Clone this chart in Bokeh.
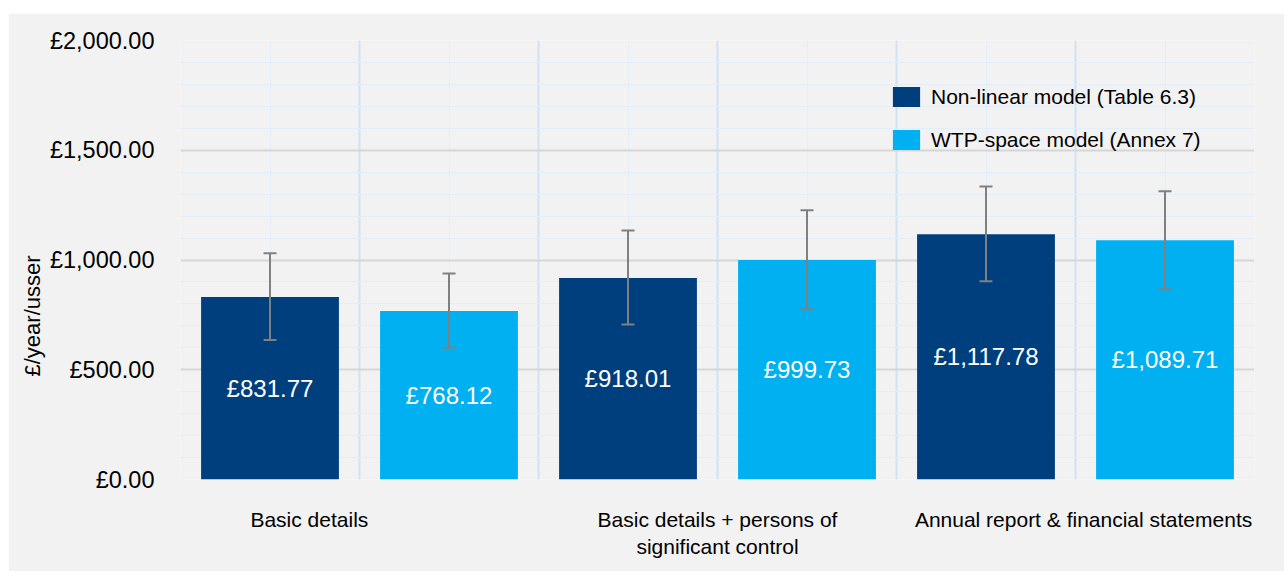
from bokeh.plotting import figure
from bokeh.models import (SingleIntervalTicker, FixedTicker, CustomJSTickFormatter,
                          Whisker, TeeHead, ColumnDataSource, Title)
from bokeh.core.properties import value
from bokeh.embed import file_html
from bokeh.resources import INLINE

# ---- data ----
categories = ["Basic details",
              "Basic details + persons of\nsignificant control",
              "Annual report & financial statements"]
series_names = ["Non-linear model (Table 6.3)", "WTP-space model (Annex 7)"]
nonlinear = [831.77, 918.01, 1117.78]
nonlinear_low = [636, 706, 903]
nonlinear_high = [1031, 1134, 1335]
wtp = [768.12, 999.73, 1089.71]
wtp_low = [600, 776, 867]
wtp_high = [938, 1227, 1313]
y_title = "£/year/usser"

# ---- style ----
FONT = "Liberation Sans"
colors = ["#003f7e", "#00b0f0"]
BG = "#f2f2f2"

p = figure(width=1276, height=558, x_range=(0, 6), y_range=(0, 2000),
           output_backend="svg", toolbar_location=None,
           background_fill_color=BG, border_fill_color=BG,
           min_border_left=172, min_border_right=30,
           min_border_top=27, min_border_bottom=92)
p.margin = (13, 0, 0, 8)
p.outline_line_color = None

series_vals = [nonlinear, wtp]
series_low = [nonlinear_low, wtp_low]
series_high = [nonlinear_high, wtp_high]

for j, (name, vals, lows, highs) in enumerate(zip(series_names, series_vals, series_low, series_high)):
    xs = [2 * i + j + 0.5 for i in range(len(vals))]
    src = ColumnDataSource(dict(
        x=xs, top=vals, half=[v / 2 for v in vals],
        low=lows, high=highs,
        lab=["£{:,.2f}".format(v) for v in vals]))
    p.vbar(x="x", top="top", width=0.77, source=src, fill_color=colors[j],
           line_color=None, legend_label=name)
    p.text(x="x", y="half", text="lab", source=src, text_color="white",
           text_font=value(FONT), text_font_size=value("24px"),
           text_align="center", text_baseline="middle")
    w = Whisker(source=src, base="x", upper="high", lower="low",
                line_color="#808080", line_width=2, level="annotation",
                upper_head=TeeHead(size=13, line_color="#808080", line_width=2),
                lower_head=TeeHead(size=13, line_color="#808080", line_width=2))
    p.add_layout(w)

# ---- axes ----
p.yaxis.ticker = SingleIntervalTicker(interval=500, num_minor_ticks=5)
p.yaxis.formatter = CustomJSTickFormatter(code="""
return "\\u00a3" + tick.toLocaleString("en-GB", {minimumFractionDigits: 2, maximumFractionDigits: 2});
""")
p.yaxis.axis_line_color = None
p.yaxis.major_tick_line_color = None
p.yaxis.minor_tick_line_color = None
p.yaxis.major_tick_out = 0
p.yaxis.major_label_standoff = 22
p.yaxis.major_label_text_font = FONT
p.yaxis.major_label_text_font_size = "23.5px"
p.yaxis.major_label_text_color = "#000000"

label_pos = [0.72, 3.0, 5.045]
p.xaxis.ticker = FixedTicker(ticks=label_pos)
p.xaxis.major_label_overrides = {pos: name for pos, name in zip(label_pos, categories)}
p.xaxis.axis_line_color = None
p.xaxis.major_tick_line_color = None
p.xaxis.minor_tick_line_color = None
p.xaxis.major_tick_out = 0
p.xaxis.major_label_standoff = 28
p.xaxis.major_label_text_font = FONT
p.xaxis.major_label_text_font_size = "21px"
p.xaxis.major_label_text_color = "#000000"

# ---- grids ----
p.ygrid.grid_line_color = "#d6d6d6"
p.ygrid.grid_line_width = 2
p.ygrid.minor_grid_line_color = "#e2eefa"
p.ygrid.minor_grid_line_width = 1
p.xgrid.ticker = SingleIntervalTicker(interval=1, num_minor_ticks=2)
p.xgrid.grid_line_color = "#cfe3f6"
p.xgrid.grid_line_width = 2
p.xgrid.minor_grid_line_color = "#e2eefa"
p.xgrid.minor_grid_line_width = 1.3

# ---- y title ----
p.add_layout(Title(text=y_title, align="left", offset=103, vertical_align="bottom",
                   text_font=FONT, text_font_size="22px", text_font_style="normal",
                   text_color="#000000", standoff=4), "left")

# ---- legend ----
lg = p.legend[0]
lg.location = (709, 327)
lg.background_fill_alpha = 0
lg.border_line_color = None
lg.padding = 0
lg.margin = 0
lg.spacing = 18
lg.glyph_width = 34
lg.glyph_height = 25
lg.label_height = 20
lg.label_standoff = 8
lg.label_text_font = FONT
lg.label_text_font_size = "21px"
lg.label_text_color = "#000000"

open("out.html", "w").write(file_html(p, INLINE))
